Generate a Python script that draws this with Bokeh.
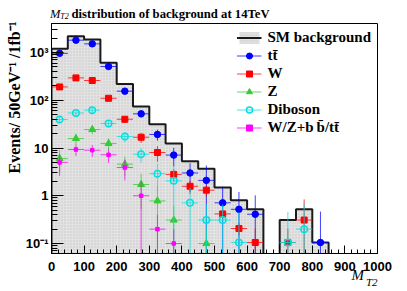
import numpy as np
from bokeh.plotting import figure
from bokeh.layouts import column
from bokeh.models import FixedTicker, Legend, LegendItem, Range1d, Title, Div
from bokeh.embed import file_html
from bokeh.resources import INLINE

# ---------------- data ----------------
bin_edges = [0, 50, 100, 150, 200, 250, 300, 350, 400, 450, 500,
             550, 600, 650, 700, 750, 800, 850, 900, 950, 1000]
sm_background = [1200, 2190, 1870, 611, 220, 74, 31.5, 12.4, 5.3, 3.7,
                 1.49, 0.81, 0.52, 0, 0.31, 0.52, 0.105, 0, 0, 0]

ttbar_x = [25, 75, 125, 175, 225, 275, 325, 375, 425, 475, 525, 575, 625, 825]
ttbar_y = [960, 1810, 1515, 509, 155, 52, 19.2, 7.1, 3.0, 2.1, 0.71, 0.52, 0.41, 0.105]
ttbar_err = [35, 49, 44, 26, 14, 8.2, 5.0, 3.0, 1.8, 2.2, 0.84, 0.68, 0.61, 0.36]

w_x = [25, 75, 125, 175, 225, 275, 325, 375, 425, 475, 525, 575, 625, 725, 775]
w_y = [190, 294, 259, 110, 40, 16.8, 8.05, 2.8, 1.58, 1.31, 0.417, 0.206, 0.105, 0.105, 0.31]
w_err = [14, 17, 16, 10, 6.3, 4.0, 2.9, 0.8, 0.5, 0.35, 0.1, 0.06, 0.1, 0.1, 0.53]

z_x = [25, 75, 125, 175, 225, 275, 325, 375, 475]
z_y = [6.0, 15.8, 24.4, 12.4, 4.6, 1.72, 0.78, 0.31, 0.1]
z_err = [3.0, 4.0, 5.0, 3.5, 2.0, 1.2, 0.8, 0.31, 0.1]

dib_x = [25, 75, 125, 175, 225, 275, 325, 375, 425, 475, 525, 575, 725, 775]
dib_y = [39.5, 54, 62, 32.6, 17.4, 7.4, 2.9, 2.05, 0.71, 0.31, 0.31, 0.105, 0.105, 0.2]
dib_err = [6.5, 7.5, 8, 5.8, 4.2, 2.5, 1.8, 2.1, 0.75, 0.35, 0.35, 0.35, 0.35, 0.5]

vbb_x = [25, 75, 125, 175, 225, 275, 325, 375]
vbb_y = [5.0, 9.3, 9.0, 7.2, 3.9, 1.0, 0.2, 0.1]
vbb_err = [2.4, 2.5, 2.5, 2.3, 1.8, 1.0, 0.2, 0.1]

x_ticks = [0, 100, 200, 300, 400, 500, 600, 700, 800, 900, 1000]
y_ticks = [0.1, 1, 10, 100, 1000]
y_tick_labels = {0.1: "10\u207b\u00b9", 1: "1", 10: "10", 100: "10\u00b2", 1000: "10\u00b3"}

serif = "Liberation Serif"

# ---------------- title (HTML, mixed styles) ----------------
title_html = (
    '<div style="position:relative;width:406px;height:20px;font-family:\'Liberation Serif\';'
    'color:#000;white-space:nowrap;">'
    '<span style="position:absolute;left:50px;top:7.6px;font-size:12.5px;line-height:12.5px;'
    'font-style:italic;">M</span>'
    '<span style="position:absolute;left:60.3px;top:13.2px;font-size:8px;line-height:8px;'
    'font-style:italic;">T2</span>'
    '<span style="position:absolute;left:71.5px;top:7.5px;font-size:12.7px;line-height:12.7px;'
    'font-weight:bold;">distribution of background at 14TeV</span>'
    '</div>')
title_div = Div(text=title_html, width=406, height=20, margin=0)

# ---------------- figure ----------------
FLOOR = 1e-3
p = figure(frame_width=326, frame_height=230, y_axis_type="log",
           x_range=Range1d(0, 1000), y_range=Range1d(0.0618, 4046),
           min_border_left=51, min_border_right=29, min_border_top=3, min_border_bottom=0,
           output_backend="svg", toolbar_location=None, margin=0)
p.xgrid.visible = False
p.ygrid.visible = False
p.outline_line_color = "#000000"
p.outline_line_width = 1
p.background_fill_color = "white"

# axes
p.xaxis.ticker = FixedTicker(ticks=x_ticks, minor_ticks=list(range(0, 1001, 20)))
minor_y = [m * 10.0 ** e for e in range(-2, 4) for m in range(2, 10)]
p.yaxis.ticker = FixedTicker(ticks=y_ticks, minor_ticks=minor_y)
p.yaxis.major_label_overrides = y_tick_labels
for ax, tin, tmin in ((p.xaxis, 8, 4), (p.yaxis, 12, 6)):
    ax.major_tick_in = tin
    ax.major_tick_out = 0
    ax.minor_tick_in = tmin
    ax.minor_tick_out = 0
    ax.axis_line_color = "black"
    ax.major_tick_line_color = "black"
    ax.minor_tick_line_color = "black"
    ax.major_label_text_font = "Liberation Sans"
    ax.major_label_text_font_style = "bold"
    ax.major_label_text_font_size = "13px"
    ax.major_label_text_color = "black"
p.xaxis.major_label_standoff = 8
p.yaxis.major_label_standoff = 3

# SM background histogram
lefts = bin_edges[:-1]
rights = bin_edges[1:]
filled = [(l, r, v) for l, r, v in zip(lefts, rights, sm_background) if v > 0]
hist = p.quad(left=[f[0] for f in filled], right=[f[1] for f in filled],
              bottom=FLOOR, top=[f[2] for f in filled],
              fill_color="#e2e2e2", line_color=None,
              hatch_pattern="dot", hatch_color="#c4c4c4", hatch_scale=3, hatch_weight=1)
step_x, step_y = [bin_edges[0]], [FLOOR]
for l, r, v in zip(lefts, rights, sm_background):
    vv = v if v > 0 else FLOOR
    step_x += [l, r]
    step_y += [vv, vv]
step_x.append(bin_edges[-1])
step_y.append(FLOOR)
outline = p.line(step_x, step_y, line_color="#1a1a1a", line_width=2)

half = (bin_edges[1] - bin_edges[0]) / 2.0


def series(xs, ys, errs, color, marker, size, fill=True, lw=1.0):
    xs = np.array(xs, float)
    ys = np.array(ys, float)
    es = np.array(errs, float)
    h = p.segment(x0=xs - half, x1=xs + half, y0=ys, y1=ys,
                  line_color=color, line_width=lw, line_alpha=0.75)
    p.segment(x0=xs, x1=xs, y0=np.maximum(ys - es, FLOOR), y1=ys + es,
              line_color=color, line_width=lw, line_alpha=0.75)
    if fill:
        s = p.scatter(xs, ys, marker=marker, size=size, fill_color=color, line_color=color)
    else:
        s = p.scatter(xs, ys, marker=marker, size=size, fill_color="white", fill_alpha=0.0,
                      line_color=color, line_width=1.5)
    return [h, s]


r_tt = series(ttbar_x, ttbar_y, ttbar_err, "#0000ff", "circle", 6.5)
r_w = series(w_x, w_y, w_err, "#ff0000", "square", 6)
r_z = series(z_x, z_y, z_err, "#33cc33", "triangle", 7)
r_dib = series(dib_x, dib_y, dib_err, "#00e0e0", "circle", 6.5, fill=False)
r_vbb = series(vbb_x, vbb_y, vbb_err, "#ff00ff", "square", 3.5)

legend = Legend(items=[
    LegendItem(label="SM background", renderers=[hist, outline]),
    LegendItem(label="t\u0074\u0304", renderers=r_tt),
    LegendItem(label="W", renderers=r_w),
    LegendItem(label="Z", renderers=r_z),
    LegendItem(label="Diboson", renderers=r_dib),
    LegendItem(label="W/Z+b\u2009b\u0304/t\u0074\u0304", renderers=r_vbb),
], location="top_right")
legend.label_text_font = serif
legend.label_text_font_style = "bold"
legend.label_text_font_size = "15px"
legend.label_text_color = "black"
legend.glyph_width = 25
legend.glyph_height = 15
legend.label_height = 15
legend.label_standoff = 6
legend.spacing = 1
legend.padding = 6
legend.margin = 0
legend.border_line_alpha = 0
legend.background_fill_alpha = 0
p.add_layout(legend)

# y axis title as a side-panel title (top aligned, like ROOT)
ytitle = Title(text="Events/ 50GeV\u207b\u00b9 /1fb\u207b\u00b9", align="right",
               text_font=serif, text_font_style="bold", text_font_size="16px",
               text_color="black", standoff=0, offset=-2)
p.add_layout(ytitle, "left")

# x axis title M_T2 at the right end, below the tick labels
xt_m = Title(text="M", align="right", vertical_align="top", offset=13.4, standoff=-13,
             text_font=serif, text_font_style="italic", text_font_size="15px", text_color="black")
p.add_layout(xt_m, "below")
xt_s = Title(text="T2", align="right", vertical_align="top", offset=0, standoff=-6,
             text_font=serif, text_font_style="italic", text_font_size="11px", text_color="black")
p.add_layout(xt_s, "below")

layout = column(title_div, p, spacing=0, margin=0)
open("out.html", "w").write(file_html(layout, INLINE))
